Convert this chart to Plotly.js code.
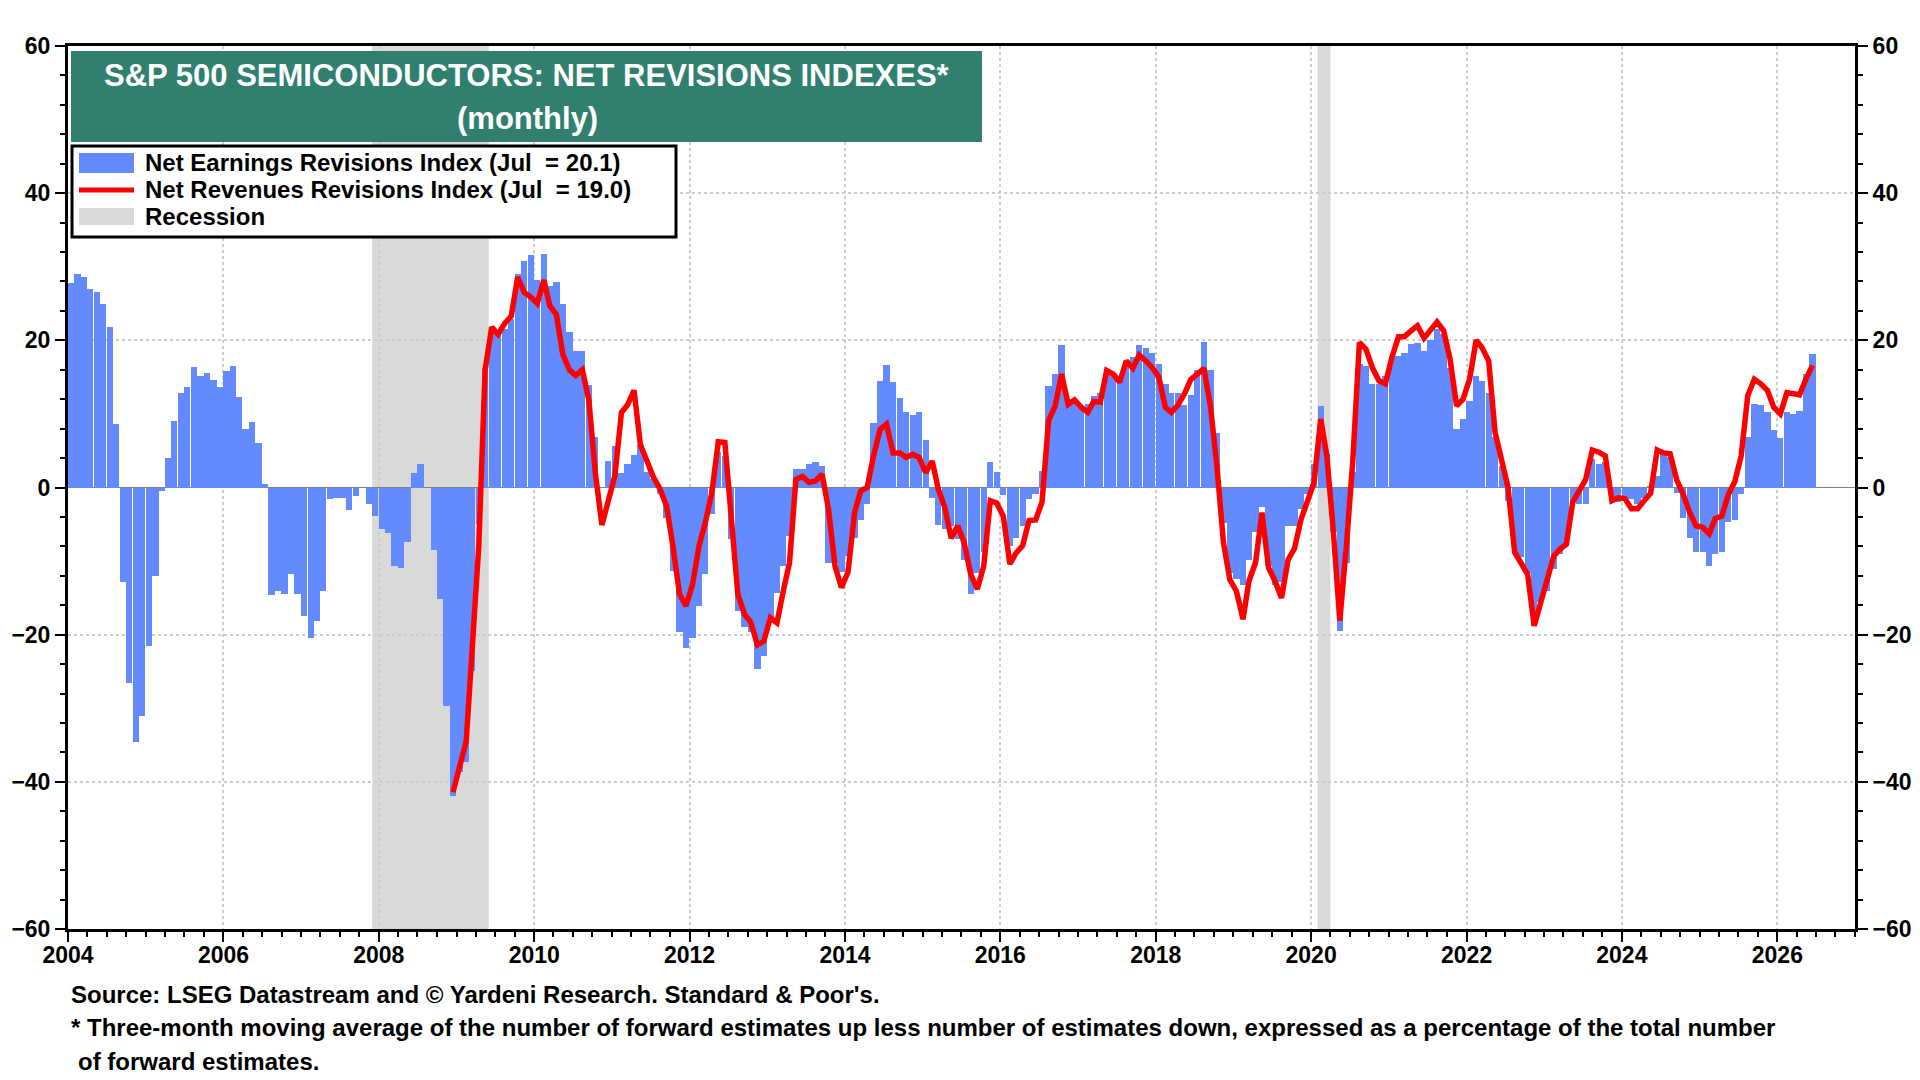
<!DOCTYPE html>
<html>
<head>
<meta charset="utf-8">
<script src="https://cdn.plot.ly/plotly-3.0.1.min.js"></script>
<style>
  html, body { margin: 0; padding: 0; background: #fff; }
  #chart { width: 1920px; height: 1080px; }
</style>
</head>
<body>
<div id="chart"></div>
<script>
// monthly values, first bar = Jan 2004
const firstYear = 2004;
const earnings = [
  27.8, 29.0, 28.6, 27.0, 26.6, 24.9, 21.8, 8.6, -12.9, -26.6, -34.6, -31.1,   // 2004
  -21.5, -12.0, -0.5, 4.0, 9.0, 12.9, 13.7, 16.4, 15.2, 15.6, 14.6, 13.7,      // 2005
  15.8, 16.5, 12.3, 7.9, 8.9, 6.0, 0.5, -14.6, -14.1, -14.5, -11.8, -14.5,     // 2006
  -17.4, -20.5, -18.1, -14.1, -1.6, -1.4, -1.4, -3.0, -1.1, -0.1, -2.2, -3.9,  // 2007
  -5.6, -6.2, -10.6, -11.0, -7.4, 2.0, 3.2, -0.1, -8.5, -15.2, -29.7, -41.9,   // 2008
  -38.7, -37.3, -25.0, -5.0, 16.3, 21.1, 20.8, 21.6, 22.9, 29.0, 30.8, 31.6,   // 2009
  28.2, 31.7, 27.4, 27.9, 24.9, 21.2, 18.5, 18.5, 13.9, 6.8, 0.0, 3.6,         // 2010
  5.7, 2.0, 3.2, 4.4, 5.8, 2.1, 1.1, -0.9, -4.2, -11.3, -19.7, -21.8,          // 2011
  -20.5, -16.1, -11.8, -3.6, 4.8, 4.3, -7.0, -16.8, -19.0, -19.7, -24.7, -22.9, // 2012
  -17.7, -14.3, -10.6, -6.6, 2.5, 2.5, 3.2, 3.5, 2.9, -10.3, -10.2, -11.5,     // 2013
  -9.3, -6.8, -4.4, -2.3, 8.8, 14.5, 16.6, 14.4, 12.2, 10.2, 9.8, 10.2,        // 2014
  6.4, -1.4, -5.1, -5.7, -5.2, -7.0, -9.8, -14.5, -11.6, -8.8, 3.4, 2.1,       // 2015
  -1.0, -7.9, -6.8, -5.2, -1.6, -0.9, 2.3, 13.8, 15.4, 19.3, 11.6, 11.8,       // 2016
  11.1, 11.3, 12.5, 12.9, 16.1, 15.6, 14.7, 17.2, 17.7, 19.3, 18.9, 18.3,      // 2017
  16.8, 14.1, 12.8, 12.9, 11.2, 12.6, 16.0, 19.8, 16.0, 7.4, -4.8, -11.6,      // 2018
  -12.5, -13.2, -9.8, -6.1, -2.7, -10.7, -13.2, -12.9, -5.2, -5.2, -2.9, -0.9, // 2019
  3.2, 11.1, 4.5, -6.1, -19.5, -10.2, 2.1, 16.8, 16.5, 14.1, 14.1, 15.2,       // 2020
  17.9, 17.9, 18.3, 19.5, 19.7, 18.6, 20.0, 21.5, 20.9, 16.3, 7.9, 9.3,        // 2021
  11.8, 15.2, 14.5, 12.9, 6.8, 2.9, -1.8, -9.1, -9.5, -11.6, -18.8, -15.6,     // 2022
  -14.1, -11.1, -9.1, -7.9, -1.8, -2.3, -2.3, 3.9, 3.2, 3.4, -1.8, -2.0,       // 2023
  -1.4, -1.6, -2.3, -1.4, 0.2, 1.6, 5.0, 4.1, -0.7, -4.1, -6.9, -8.8,          // 2024
  -8.8, -10.7, -9.1, -8.8, -4.7, -4.4, -0.9, 6.9, 11.3, 11.2, 10.3, 7.8,       // 2025
  6.7, 10.2, 10.0, 10.4, 15.4, 18.1                                            // 2026
];

// revenues series starts Dec 2008 (month index 59)
const revenuesStart = 59;
const revenues = [
  -41.4,                                                                        // 2008 Dec
  -38.0, -34.5, -22.0, -8.0, 16.0, 21.8, 20.8, 22.3, 23.3, 28.6, 26.5, 25.9,    // 2009
  25.0, 28.2, 24.7, 23.5, 18.1, 16.0, 15.2, 16.0, 11.8, 2.0, -5.1, -2.0,        // 2010
  1.6, 10.2, 11.2, 13.2, 5.8, 3.6, 1.4, -0.2, -2.5, -8.0, -14.5, -16.1,         // 2011
  -13.2, -7.9, -4.8, -0.7, 6.2, 6.1, -3.4, -14.5, -17.2, -18.3, -21.4, -20.9,   // 2012
  -17.7, -18.4, -14.3, -10.2, 1.1, 1.5, 0.7, 0.9, 1.8, -2.9, -10.7, -13.6,      // 2013
  -11.5, -3.4, -0.5, 0.0, 4.3, 7.9, 8.6, 4.7, 4.7, 4.1, 4.5, 4.1,               // 2014
  2.0, 3.6, -0.2, -2.7, -6.9, -5.2, -7.5, -11.8, -13.8, -10.7, -1.8, -2.1,      // 2015
  -3.9, -10.4, -8.9, -7.9, -4.5, -4.4, -2.0, 9.1, 11.1, 15.4, 11.3, 11.9,       // 2016
  10.9, 10.2, 11.7, 11.6, 15.9, 15.4, 14.3, 17.2, 16.2, 18.0, 17.2, 16.3,       // 2017
  15.0, 10.9, 10.2, 11.2, 12.7, 14.7, 15.4, 16.2, 11.0, 3.0, -7.5, -12.5,       // 2018
  -14.1, -17.9, -12.7, -10.2, -3.4, -10.9, -12.7, -15.0, -9.8, -8.3, -4.3, -2.0, // 2019
  0.7, 9.3, 4.3, -6.1, -18.1, -7.9, 3.6, 19.7, 18.8, 16.3, 14.5, 14.1,          // 2020
  17.7, 20.5, 20.5, 21.3, 22.0, 20.3, 21.5, 22.5, 21.3, 17.5, 11.1, 12.0,       // 2021
  14.7, 20.0, 19.0, 17.2, 7.5, 3.6, 0.0, -8.8, -10.2, -11.8, -18.8, -15.9,      // 2022
  -12.9, -9.3, -8.4, -7.7, -2.0, -0.5, 1.1, 5.1, 4.8, 4.3, -1.8, -1.4,          // 2023
  -1.5, -2.9, -2.9, -1.8, -0.8, 5.1, 4.7, 4.6, 1.0, -0.9, -3.4, -5.2,           // 2024
  -5.4, -6.3, -4.2, -3.9, -1.0, 0.8, 4.3, 12.5, 14.7, 14.1, 13.2, 10.9,         // 2025
  10.0, 12.9, 12.7, 12.6, 14.7, 16.6                                            // 2026
];

const recessionStart = ['2007-12-01', '2020-02-01'];
const recessionEnd = ['2009-06-01', '2020-04-01'];

const titleLines = ['S&amp;P 500 SEMICONDUCTORS: NET REVISIONS INDEXES*', '(monthly)'];
const legendLabels = [
  'Net Earnings Revisions Index (Jul \u00a0= 20.1)',
  'Net Revenues Revisions Index (Jul \u00a0= 19.0)',
  'Recession'
];
const footnotes = [
  'Source: LSEG Datastream and © Yardeni Research. Standard &amp; Poor\'s.',
  '* Three-month moving average of the number of forward estimates up less number of estimates down, expressed as a percentage of the total number',
  'of forward estimates.'
];

function monthDate(i) {
  let y = firstYear + Math.floor(i / 12);
  let m = (i % 12) + 1;
  return y + '-' + (m < 10 ? '0' + m : m) + '-15';
}

// plot area in pixels, used to place boxes and notes
const L = 68, R = 1855, T = 46, B = 929;
const px = x => (x - L) / (R - L);
const py = y => (B - y) / (B - T);

const BLUE = '#638aff';
const RED = '#ff0000';
const GREY = '#d9d9d9';
const GREEN = '#307f6f';
const FONT = 'Liberation Sans, Arial, sans-serif';

let barTrace = {
  type: 'bar',
  x: earnings.map((v, i) => monthDate(i)),
  y: earnings,
  width: 29.5 * 86400000,
  marker: { color: BLUE, line: { width: 0 } },
  hoverinfo: 'x+y'
};

let lineTrace = {
  type: 'scatter',
  mode: 'lines',
  x: revenues.map((v, i) => monthDate(i + revenuesStart)),
  y: revenues,
  yaxis: 'y2',
  line: { color: RED, width: 5.5 }
};

let shapes = recessionStart.map((s, i) => ({
  type: 'rect', xref: 'x', yref: 'paper',
  x0: s, x1: recessionEnd[i], y0: 0, y1: 1,
  fillcolor: GREY, line: { width: 0 }, layer: 'below'
}));

// title box
shapes.push({
  type: 'rect', xref: 'paper', yref: 'paper',
  x0: px(71), x1: px(982), y0: py(142), y1: py(51),
  fillcolor: GREEN, line: { width: 0 }, layer: 'above'
});
// legend box and keys
shapes.push({
  type: 'rect', xref: 'paper', yref: 'paper',
  x0: px(72), x1: px(676), y0: py(237), y1: py(146),
  fillcolor: '#ffffff', line: { color: '#000', width: 3 }, layer: 'above'
});
shapes.push({
  type: 'rect', xref: 'paper', yref: 'paper',
  x0: px(79), x1: px(134), y0: py(173), y1: py(153),
  fillcolor: BLUE, line: { width: 0 }, layer: 'above'
});
shapes.push({
  type: 'line', xref: 'paper', yref: 'paper',
  x0: px(79), x1: px(134), y0: py(190), y1: py(190),
  line: { color: RED, width: 5 }, layer: 'above'
});
shapes.push({
  type: 'rect', xref: 'paper', yref: 'paper',
  x0: px(79), x1: px(134), y0: py(225), y1: py(208),
  fillcolor: GREY, line: { width: 0 }, layer: 'above'
});

let annotations = [];
[75, 118].forEach((y, i) => annotations.push({
  xref: 'paper', yref: 'paper', x: px(527), y: py(y),
  xanchor: 'center', yanchor: 'middle', showarrow: false,
  text: titleLines[i],
  font: { family: FONT, size: 31, color: '#ffffff', weight: 700 }
}));
[162, 189, 216].forEach((y, i) => annotations.push({
  xref: 'paper', yref: 'paper', x: px(143), y: py(y),
  xanchor: 'left', yanchor: 'middle', showarrow: false,
  text: legendLabels[i],
  font: { family: FONT, size: 24, color: '#000', weight: 700 }
}));
[[69, 994], [69, 1027], [76, 1061]].forEach((p, i) => annotations.push({
  xref: 'paper', yref: 'paper', x: px(p[0]), y: py(p[1]),
  xanchor: 'left', yanchor: 'middle', showarrow: false,
  text: footnotes[i],
  font: { family: FONT, size: 24, color: '#000', weight: 700 }
}));

let tickFont = { family: FONT, size: 23, color: '#000', weight: 700 };

let yBase = {
  range: [-60, 60],
  dtick: 20,
  tick0: 0,
  ticks: 'outside',
  ticklen: 10,
  tickwidth: 2,
  tickcolor: '#000',
  tickfont: tickFont,
  showline: true,
  linewidth: 3,
  linecolor: '#000',
  minor: { dtick: 4, ticks: 'outside', ticklen: 5, tickwidth: 2, tickcolor: '#000', showgrid: false },
  fixedrange: true
};

let layout = {
  width: 1920,
  height: 1080,
  margin: { l: L, r: 1920 - R, t: T, b: 1080 - B },
  paper_bgcolor: '#ffffff',
  plot_bgcolor: 'rgba(0,0,0,0)',
  showlegend: false,
  bargap: 0,
  font: { family: FONT, color: '#000' },
  xaxis: {
    type: 'date',
    range: ['2004-01-01', '2027-01-01'],
    tick0: '2004-01-01',
    dtick: 'M24',
    tickformat: '%Y',
    ticks: 'outside',
    ticklen: 10,
    tickwidth: 2,
    tickcolor: '#000',
    tickfont: tickFont,
    ticklabelstandoff: -7,
    showline: true,
    mirror: true,
    linewidth: 3,
    linecolor: '#000',
    showgrid: true,
    gridcolor: '#cccccc',
    gridwidth: 2,
    griddash: 'dot',
    minor: { dtick: 'M3', ticks: 'outside', ticklen: 5, tickwidth: 2, tickcolor: '#000', showgrid: false },
    fixedrange: true
  },
  yaxis: Object.assign({}, yBase, {
    side: 'left',
    mirror: true,
    showgrid: true,
    gridcolor: '#cccccc',
    gridwidth: 2,
    griddash: 'dot',
    zeroline: true,
    zerolinecolor: '#808080',
    zerolinewidth: 1.5
  }),
  yaxis2: Object.assign({}, yBase, {
    side: 'right',
    overlaying: 'y',
    showgrid: false,
    zeroline: false
  }),
  shapes: shapes,
  annotations: annotations
};

let config = { displayModeBar: false, staticPlot: true };

Plotly.newPlot('chart', [barTrace, lineTrace], layout, config);
</script>
</body>
</html>
